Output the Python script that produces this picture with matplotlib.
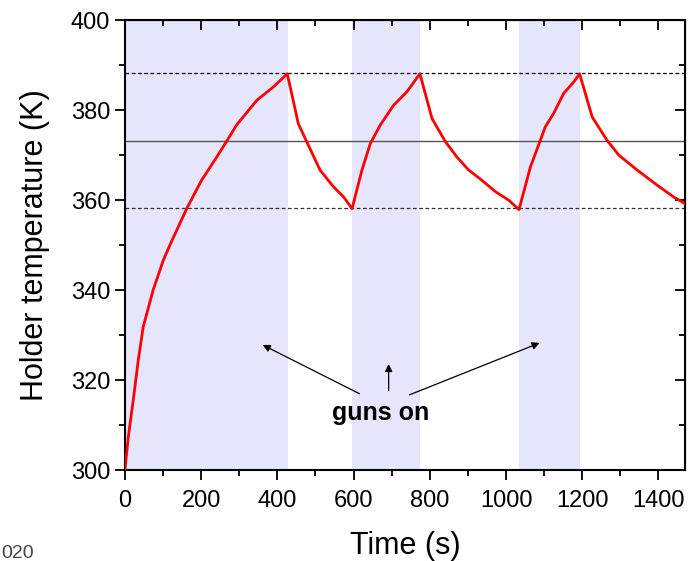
import matplotlib
matplotlib.use("Agg")
import matplotlib.pyplot as plt
from matplotlib.ticker import MultipleLocator

plt.rcParams['font.family'] = ['Liberation Sans', 'DejaVu Sans']

# holder temperature
t = [0, 9, 22, 35, 48, 74, 101, 118, 162, 201, 241, 267, 293, 346, 390, 426,
     455, 477, 512, 547, 574, 596,
     622, 644, 670, 705, 740, 774,
     806, 841, 871, 902, 937, 972, 1007, 1034,
     1064, 1090, 1103, 1125, 1151, 1178, 1193,
     1226, 1265, 1296, 1344, 1397, 1440, 1470]
temp = [300, 307.4, 315.6, 324.4, 331.8, 340, 346.7, 350, 358.1, 364.4, 369.6, 373.1, 376.7, 382.2, 385.2, 388.1,
        377, 373, 366.7, 363, 360.7, 358.1,
        366.7, 372.6, 376.7, 381.1, 384.1, 388.1,
        378.1, 373, 369.6, 366.7, 364.4, 361.9, 360, 357.9,
        367.4, 373.3, 376.3, 379.3, 383.7, 386.3, 388.1,
        378.5, 373.3, 370, 366.7, 363.3, 360.7, 359.2]

# periods with guns on
guns_on = [(0, 428), (596, 774), (1035, 1193)]
t_max_line = 388.2
t_min_line = 358.2
t_mid_line = 373.1

fig = plt.figure(figsize=(6.9, 5.61), dpi=100)
ax = fig.add_axes([0.181, 0.162, 0.812, 0.802])

for a, b in guns_on:
    ax.axvspan(a, b, color='#e5e5fb', lw=0, zorder=0)

ax.axhline(t_max_line, color='black', lw=0.9, ls=(0, (3, 2)), zorder=1)
ax.axhline(t_min_line, color='#333333', lw=0.9, ls=(0, (3, 2)), zorder=1)
ax.axhline(t_mid_line, color='#555555', lw=1.0, zorder=1)

ax.plot(t, temp, color='#ff0000', lw=2.0, zorder=3)

ax.set_xlim(0, 1470)
ax.set_ylim(300, 400)
ax.xaxis.set_major_locator(MultipleLocator(200))
ax.xaxis.set_minor_locator(MultipleLocator(100))
ax.yaxis.set_major_locator(MultipleLocator(20))
ax.yaxis.set_minor_locator(MultipleLocator(10))
ax.tick_params(which='both', direction='out', labelsize=17, width=1.3)
ax.tick_params(which='major', length=7)
ax.tick_params(which='minor', length=4)
ax.tick_params(axis='x', pad=7)
for s in ax.spines.values():
    s.set_linewidth(1.5)

top = ax.secondary_xaxis('top')
top.xaxis.set_major_locator(MultipleLocator(200))
top.xaxis.set_minor_locator(MultipleLocator(100))
top.tick_params(which='both', direction='in', labeltop=False, width=1.3)
top.tick_params(which='major', length=7)
top.tick_params(which='minor', length=4)
right = ax.secondary_yaxis('right')
right.yaxis.set_major_locator(MultipleLocator(20))
right.yaxis.set_minor_locator(MultipleLocator(10))
right.tick_params(which='both', direction='in', labelright=False, width=1.3)
right.tick_params(which='major', length=7)
right.tick_params(which='minor', length=4)

ax.set_xlabel('Time (s)', fontsize=22, labelpad=14)
ax.set_ylabel('Holder temperature (K)', fontsize=22, labelpad=15)

ax.text(672, 312.7, 'guns on', fontsize=18, fontweight='bold',
        ha='center', va='center')
arr = dict(arrowstyle='-|>', color='black', lw=0.9, mutation_scale=11)
ax.annotate('', xy=(355, 328.1), xytext=(622, 316.7), arrowprops=arr)
ax.annotate('', xy=(692, 324.2), xytext=(692, 317.1), arrowprops=arr)
ax.annotate('', xy=(1095, 328.5), xytext=(740, 316.5), arrowprops=arr)

fig.text(0.002, 0.006, '020', fontsize=14, color='#444444', ha='left', va='baseline')

fig.savefig('out.png', dpi=100)
